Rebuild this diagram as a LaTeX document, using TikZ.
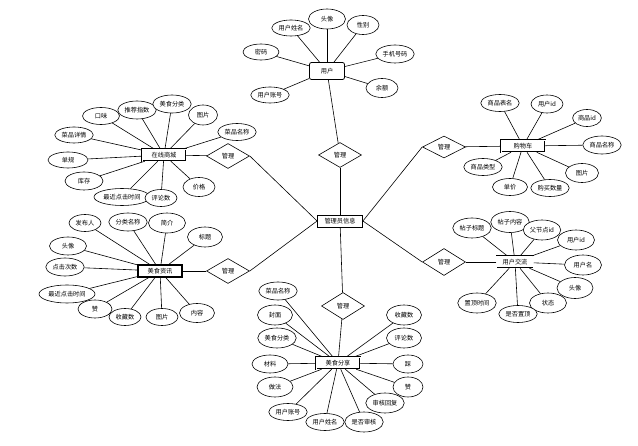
\documentclass[tikz,border=0pt]{standalone}
\usepackage{fontspec}
\newfontfamily\cjk{Noto Sans CJK SC}
\usetikzlibrary{shapes.geometric}
\tikzset{
  attr/.style={ellipse,draw,fill=white,line width=0.6pt,inner xsep=1.2pt,inner ysep=0pt,minimum height=16pt,minimum width=32pt,font=\cjk\fontsize{6.2}{7}\selectfont},
  ent/.style={rectangle,draw,fill=white,line width=0.5pt,double,double distance=0.7pt,minimum width=44pt,minimum height=12pt,inner sep=1pt,font=\cjk\fontsize{6.2}{7}\selectfont},
  rel/.style={diamond,draw,fill=white,line width=0.6pt,minimum width=43pt,minimum height=25pt,inner sep=0pt,font=\cjk\fontsize{6.2}{7}\selectfont},
  link/.style={draw,line width=0.6pt},
}
\begin{document}
\begin{tikzpicture}[x=1pt,y=-1pt]
\useasboundingbox[fill=white] (0,0) rectangle (638,446);
% user
\node[rectangle,draw,fill=white,rounded corners=2pt,line width=0.8pt,minimum width=35pt,minimum height=17pt,font=\cjk\fontsize{6.2}{7}\selectfont] (user) at (327,71) {用户};
\node[attr] (u1) at (291,28) {用户姓名};
\node[attr,minimum width=37pt,minimum height=20pt] (u2) at (327,19) {头像};
\node[attr,minimum height=19pt] (u3) at (363,25) {性别};
\node[attr,minimum width=36pt] (u4) at (261,52) {密码};
\node[attr,minimum height=18pt] (u5) at (395,54) {手机号码};
\node[attr,minimum height=19pt] (u6) at (382,88) {余额};
\node[attr] (u7) at (270,95) {用户账号};
% admin
\node[rectangle,draw,fill=white,line width=0.8pt,minimum width=45pt,minimum height=12pt,inner sep=1pt,font=\cjk\fontsize{6.2}{7}\selectfont] (admin) at (340,221) {管理员信息};
\node[rel] (d1) at (340,155) {管理};
% online mall
\node[ent] (mall) at (164,155) {在线商城};
\node[rel] (d2) at (228,156) {管理};
\node[attr,minimum width=37pt,minimum height=17pt] (m1) at (101,116) {口味};
\node[attr,minimum height=18pt] (m2) at (137,110) {推荐指数};
\node[attr,minimum height=18pt] (m3) at (172,104) {美食分类};
\node[attr,minimum width=29pt,minimum height=20pt] (m4) at (203,115) {图片};
\node[attr,minimum height=17pt] (m5) at (237,132) {菜品名称};
\node[attr] (m6) at (74,135) {菜品详情};
\node[attr,minimum width=40pt] (m7) at (68,160) {单规};
\node[attr,minimum width=38pt,minimum height=18pt] (m8) at (84,181) {库存};
\node[attr,minimum height=17pt] (m9) at (122,197) {最近点击时间};
\node[attr,minimum height=17pt] (m10) at (161,198) {评论数};
\node[attr,minimum height=19pt] (m11) at (199,187) {价格};
% food news
\node[ent,double=none,line width=1.1pt] (news) at (160,271) {美食资讯};
\node[rel] (d3) at (228,271) {管理};
\node[attr,minimum height=17pt] (n1) at (85,223) {发布人};
\node[attr,minimum height=18pt] (n2) at (128,222) {分类名称};
\node[attr,minimum width=37pt,minimum height=20pt] (n3) at (167,223) {简介};
\node[attr,minimum width=35pt,minimum height=20pt] (n4) at (205,237) {标题};
\node[attr,minimum width=37pt,minimum height=18pt] (n5) at (68,246) {头像};
\node[attr,minimum height=18pt] (n6) at (65,267) {点击次数};
\node[attr,minimum height=18pt] (n7) at (67,294) {最近点击时间};
\node[attr,minimum width=34pt,minimum height=18pt] (n8) at (95,309) {赞};
\node[attr,minimum height=17pt] (n9) at (125,317) {收藏数};
\node[attr,minimum height=17pt] (n10) at (162,317) {图片};
\node[attr,minimum width=35pt,minimum height=19pt] (n11) at (197,313) {内容};
% cart
\node[ent] (cart) at (523,146) {购物车};
\node[rel,minimum height=22pt] (d4) at (444,147) {管理};
\node[attr,minimum height=17pt] (c1) at (500,103) {商品表名};
\node[attr,minimum height=18pt] (c2) at (547,104) {用户id};
\node[attr,minimum width=27pt,minimum height=17pt] (c3) at (587,118) {商品id};
\node[attr,minimum height=18pt] (c4) at (602,145) {商品名称};
\node[attr,minimum width=33pt,minimum height=19pt] (c5) at (582,173) {图片};
\node[attr,minimum height=17pt] (c6) at (550,188) {购买数量};
\node[attr,minimum width=35pt,minimum height=17pt] (c7) at (510,187) {单价};
\node[attr,minimum height=17pt] (c8) at (483,167) {商品类型};
% communication
\node[ent,minimum width=37pt] (comm) at (515,262) {用户交流};
\node[rel,minimum height=27pt] (d5) at (444,262) {管理};
\node[attr,minimum height=20pt] (t1) at (472,228) {帖子标题};
\node[attr,minimum height=21pt] (t2) at (510,222) {帖子内容};
\node[attr,minimum height=20pt] (t3) at (542,230) {父节点id};
\node[attr,minimum width=37pt,minimum height=20pt] (t4) at (576,240) {用户id};
\node[attr,minimum width=37pt,minimum height=20pt] (t5) at (583,265) {用户名};
\node[attr,minimum width=36pt,minimum height=21pt] (t6) at (575,288) {头像};
\node[attr,minimum width=37pt,minimum height=20pt] (t7) at (548,303) {状态};
\node[attr,minimum height=17pt] (t8) at (518,314) {是否置顶};
\node[attr,minimum height=20pt] (t9) at (477,303) {置顶时间};
% food share
\node[ent] (share) at (338,363) {美食分享};
\node[rel,minimum height=27pt] (d6) at (343,306) {管理};
\node[attr,minimum height=18pt] (s1) at (278,291) {菜品名称};
\node[attr,minimum width=35pt,minimum height=20pt] (s2) at (275,315) {封面};
\node[attr,minimum height=20pt] (s3) at (277,338) {美食分类};
\node[attr,minimum width=36pt,minimum height=18pt] (s4) at (270,364) {材料};
\node[attr,minimum width=36pt,minimum height=20pt] (s5) at (275,387) {做法};
\node[attr,minimum height=17pt] (s6) at (288,412) {用户账号};
\node[attr,minimum height=17pt] (s7) at (325,422) {用户姓名};
\node[attr,minimum height=20pt] (s8) at (364,422) {是否审核};
\node[attr,minimum height=20pt] (s9) at (385,403) {审核回复};
\node[attr,minimum width=30pt,minimum height=20pt] (s10) at (408,387) {赞};
\node[attr,minimum width=30pt,minimum height=18pt] (s11) at (408,364) {踩};
\node[attr,minimum width=35pt,minimum height=20pt] (s12) at (404,338) {评论数};
\node[attr,minimum width=35pt,minimum height=20pt] (s13) at (404,315) {收藏数};
% links
\foreach \a in {u1,u2,u3,u4,u5,u6,u7} \draw[link] (user) -- (\a);
\draw[link] (user) -- (d1);
\draw[link] (d1) -- (admin);
\draw[link] (d2.east) -- (admin.west);
\draw[link] (d3.east) -- (admin.west);
\draw[link] (d4.west) -- (admin.east);
\draw[link] (d5.west) -- (admin.east);
\draw[link] (admin) -- (d6);
\draw[link] (mall) -- (d2);
\draw[link] (news) -- (d3);
\draw[link] (cart) -- (d4);
\draw[link] (comm) -- (d5);
\draw[link] (share) -- (d6);
\foreach \a in {m1,m2,m3,m4,m5,m6,m7,m8,m9,m10,m11} \draw[link] (mall) -- (\a);
\foreach \a in {n1,n2,n3,n4,n5,n6,n7,n8,n9,n10,n11} \draw[link] (news) -- (\a);
\foreach \a in {c1,c2,c3,c4,c5,c6,c7,c8} \draw[link] (cart) -- (\a);
\foreach \a in {t1,t2,t3,t4,t5,t6,t7,t8,t9} \draw[link] (comm) -- (\a);
\foreach \a in {s1,s2,s3,s4,s5,s6,s7,s8,s9,s10,s11,s12,s13} \draw[link] (share) -- (\a);
\end{tikzpicture}
\end{document}
